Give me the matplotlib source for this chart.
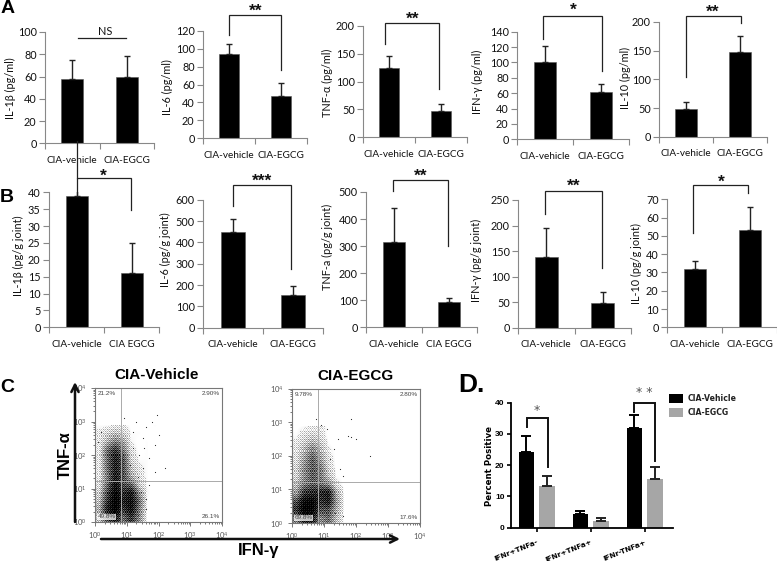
import numpy as np
import matplotlib
matplotlib.use('Agg')
import matplotlib.pyplot as plt

W, H = 777, 561
plt.rcParams['font.family'] = ['Lato', 'DejaVu Sans']
plt.rcParams['mathtext.default'] = 'regular'

groups = ['CIA-vehicle', 'CIA-EGCG']
groups_b = ['CIA-vehicle', 'CIA EGCG']

# panels A and B: vehicle / EGCG means and upper error
a_labels = ['IL-1β (pg/ml)', 'IL-6 (pg/ml)', 'TNF-α (pg/ml)', 'IFN-γ (pg/ml)', 'IL-10 (pg/ml)']
a_vehicle = [58, 94, 125, 101, 48]
a_egcg = [60, 47, 47, 61, 147]
a_vehicle_err = [17, 11, 21, 20, 13]
a_egcg_err = [18, 15, 12, 11, 28]
a_ymax = [100, 120, 200, 140, 200]
a_ystep = [20, 20, 50, 20, 50]

b_labels = ['IL-1β (pg/g joint)', 'IL-6 (pg/g joint)', 'TNF-a (pg/g joint)', 'IFN-γ (pg/g joint)', 'IL-10 (pg/g joint)']
b_vehicle = [39, 448, 315, 138, 32]
b_egcg = [16, 152, 92, 49, 53]
b_vehicle_err = [4, 62, 125, 58, 4]
b_egcg_err = [9, 44, 18, 20, 13]
b_ymax = [40, 600, 500, 250, 70]
b_ystep = [5, 100, 100, 50, 10]

# panel D
d_groups = ['IFNr+TNFa-', 'IFNr+TNFa+', 'IFNr-TNFa+']
d_vehicle = [24.2, 4.3, 32]
d_egcg = [13.2, 2.2, 15.5]
d_vehicle_err = [5.3, 0.9, 4]
d_egcg_err = [3.3, 0.8, 4]

c_vehicle_density = np.array([
    [1.5, 5.0, 7.0, 4.0, 6.0, 3.0, 0.2, 0.0, 0.0],
    [2.0, 7.0, 9.5, 6.0, 8.0, 3.5, 0.3, 0.0, 0.0],
    [1.5, 6.0, 9.5, 7.0, 8.0, 4.0, 0.3, 0.1, 0.0],
    [1.0, 5.0, 8.5, 6.0, 7.0, 2.5, 0.4, 0.1, 0.0],
    [0.7, 4.0, 8.0, 5.0, 4.0, 1.0, 0.3, 0.1, 0.0],
    [0.5, 3.5, 7.0, 5.0, 2.0, 0.7, 0.3, 0.1, 0.0],
    [0.5, 4.0, 7.0, 5.0, 1.5, 0.5, 0.3, 0.1, 0.0],
    [0.5, 4.0, 7.0, 5.0, 1.0, 0.3, 0.3, 0.1, 0.0],
    [0.5, 4.0, 6.0, 3.5, 0.7, 0.2, 0.3, 0.1, 0.0],
    [0.5, 2.0, 3.5, 2.5, 0.4, 0.2, 0.3, 0.1, 0.0],
    [0.5, 1.0, 1.5, 1.0, 0.3, 0.3, 0.2, 0.2, 0.1],
    [0.3, 0.3, 0.5, 0.6, 0.2, 0.2, 0.2, 0.3, 0.2],
])
c_egcg_density = np.array([
    [3.5, 7.0, 7.0, 3.0, 4.0, 1.5, 0.2, 0.0, 0.0],
    [6.0, 9.5, 9.0, 5.0, 5.0, 2.0, 0.2, 0.0, 0.0],
    [5.0, 8.5, 9.0, 6.0, 7.0, 2.5, 0.2, 0.0, 0.0],
    [2.5, 6.0, 6.5, 6.5, 7.0, 2.0, 0.2, 0.0, 0.0],
    [1.5, 3.5, 4.5, 4.0, 3.0, 0.6, 0.2, 0.0, 0.0],
    [1.0, 3.0, 4.5, 3.5, 1.5, 0.3, 0.2, 0.0, 0.0],
    [1.0, 3.0, 4.5, 3.5, 1.0, 0.2, 0.1, 0.0, 0.0],
    [0.7, 2.5, 4.5, 2.5, 0.7, 0.2, 0.1, 0.0, 0.0],
    [0.7, 2.0, 3.5, 2.0, 0.5, 0.2, 0.1, 0.1, 0.0],
    [0.5, 1.2, 2.0, 1.2, 0.3, 0.1, 0.1, 0.1, 0.0],
    [0.3, 0.7, 1.0, 0.7, 0.2, 0.1, 0.1, 0.1, 0.0],
    [0.2, 0.3, 0.4, 0.6, 0.2, 0.2, 0.1, 0.1, 0.0],
])
# stray events outside the cloud (log10 of the fluorescence)
c_vehicle_x = [2.0, 1.9, 1.6, 1.3, 0.9, 1.8, 1.95, 1.5, 1.2, 1.4, 1.7, 1.1, 1.5, 1.9, 1.35, 1.7, 1.45, 1.6, 1.3, 1.35, 1.6, 1.2, 0.2, 0.1, 1.55, 2.2]
c_vehicle_y = [2.6, 2.3, 2.85, 3.0, 3.1, 3.0, 3.2, 2.5, 2.2, 2.0, 1.9, 1.7, 1.6, 1.5, 1.35, 1.1, 0.9, 0.7, 0.6, 0.2, 0.4, 2.7, 2.7, 2.4, 2.2, 1.6]
c_egcg_x = [1.85, 1.75, 1.85, 2.0, 0.75, 1.1, 2.45, 1.5, 1.6, 1.45, 1.3, 0.9, 1.2, 1.35, 1.6]
c_egcg_y = [3.1, 2.6, 2.55, 2.5, 3.1, 2.8, 2.0, 1.6, 1.4, 2.5, 2.2, 2.9, 1.9, 0.3, 0.2]
c_vehicle_pct = ['21.2%', '2.90%', '49.8%', '26.1%']
c_egcg_pct = ['9.78%', '2.80%', '69.8%', '17.6%']

# ordered-dither matrix, gives the read darkness a grainy look
bayer = np.array([[0, 8, 2, 10], [12, 4, 14, 6], [3, 11, 1, 9], [15, 7, 13, 5]]) / 16 + 1 / 32


def px_axes(left, right, bottom, top):
    return fig.add_axes([left / W, 1 - bottom / H, (right - left) / W, (bottom - top) / H])


def bar_panel(rect, vals, errs, ymax, ystep, names):
    ax = px_axes(*rect)
    x = np.arange(2)
    ax.bar(x, vals, width=0.4, color='black', edgecolor='#555555', linewidth=0.4)
    ax.errorbar(x, vals, yerr=[[0, 0], errs], fmt='none', ecolor='#222222', elinewidth=1, capsize=2, capthick=1)
    ax.set_xlim(-0.5, 1.5)
    ax.set_ylim(0, ymax)
    ax.set_yticks(np.arange(0, ymax + 1, ystep))
    ax.set_xticks([-0.5, 0.5, 1.5])
    ax.set_xticklabels([])
    ax.set_xticks(x, names, minor=True)
    ax.tick_params(axis='x', which='major', length=4, color='#888888')
    ax.tick_params(axis='x', which='minor', length=0, pad=9, labelsize=7.2, labelcolor='#111111')
    ax.tick_params(axis='y', length=4, color='#888888', labelsize=7.8, pad=2, labelcolor='#111111')
    for s in ['top', 'right']:
        ax.spines[s].set_visible(False)
    for s in ['left', 'bottom']:
        ax.spines[s].set_color('#888888')
    return ax


def flow_panel(rect, density, dots_x, dots_y, pcts, gate_x, gate_y):
    ax = px_axes(*rect)
    # read grid -> one value per image pixel, then a soft ordered dither
    d = np.pad(density, ((1, 0), (1, 0)), mode='edge')
    node_x = np.r_[0, 0.125 + 0.25 * np.arange(density.shape[1])]
    node_y = np.r_[0, 0.125 + 0.25 * np.arange(density.shape[0])]
    step = 4 / (rect[1] - rect[0])
    fine_x = np.arange(0, node_x[-1], step)
    fine_y = np.arange(0, node_y[-1], step)
    rows = np.array([np.interp(fine_x, node_x, r) for r in d])
    fine = np.array([np.interp(fine_y, node_y, c) for c in rows.T]).T
    thresh = bayer[np.ix_(np.arange(len(fine_y)) % 4, np.arange(len(fine_x)) % 4)]
    shade = (fine / 9.5) ** 0.7 * 1.25 - 0.1 + 0.6 * (thresh - 0.5) * (fine > 0.4)
    edge_x = 10 ** np.r_[fine_x, fine_x[-1] + step]
    edge_y = 10 ** np.r_[fine_y, fine_y[-1] + step]
    ax.pcolormesh(edge_x, edge_y, np.clip(shade, 0, 1), cmap='gray_r', vmin=0, vmax=1, linewidth=0, rasterized=True)
    ax.scatter(10 ** np.array(dots_x), 10 ** np.array(dots_y), s=0.7, c='#222222', linewidths=0)
    ax.set_xscale('log')
    ax.set_yscale('log')
    ax.set_xlim(1, 1e4)
    ax.set_ylim(1, 1e4)
    ax.axvline(gate_x, color='#aaaaaa', lw=0.7)
    ax.axhline(gate_y, color='#aaaaaa', lw=0.7)
    ax.set_xticks([1, 10, 100, 1000, 10000])
    ax.set_yticks([1, 10, 100, 1000, 10000])
    ax.tick_params(which='both', labelsize=5.5, color='#444444', labelcolor='#555555', width=0.5)
    ax.tick_params(which='major', length=3, pad=3)
    ax.tick_params(which='minor', length=1.5)
    for s in ax.spines.values():
        s.set_color('#777777')
        s.set_linewidth(0.8)
    spots = [(0.02, 0.975, 'left', 'top'), (0.98, 0.975, 'right', 'top'),
             (0.02, 0.02, 'left', 'bottom'), (0.98, 0.02, 'right', 'bottom')]
    for (tx, ty, ha, va), p in zip(spots, pcts):
        ax.text(tx, ty, p, transform=ax.transAxes, ha=ha, va=va, fontsize=4.6, color='#444444',
                family='Liberation Sans',
                bbox=dict(fc='white', ec='none', pad=0.5, alpha=0.75))
    return ax


fig = plt.figure(figsize=(W / 100, H / 100), dpi=100)

a_rects = [(45, 154, 143.3, 32), (203, 307, 138.3, 30.7), (363, 467, 137.3, 26),
           (517, 629, 139.3, 31.7), (659, 767, 136.7, 22)]
b_rects = [(49, 159, 327.3, 192.3), (203, 323, 327.7, 199.7), (366, 477, 327.3, 192),
           (518, 631, 327.7, 200), (667, 777, 327.3, 199.3)]

for i in range(5):
    bar_panel(a_rects[i], [a_vehicle[i], a_egcg[i]], [a_vehicle_err[i], a_egcg_err[i]], a_ymax[i], a_ystep[i], groups)
    names_b = groups_b if i in (0, 2) else groups
    bar_panel(b_rects[i], [b_vehicle[i], b_egcg[i]], [b_vehicle_err[i], b_egcg_err[i]], b_ymax[i], b_ystep[i], names_b)

flow_panel((95, 222, 522, 388), c_vehicle_density, c_vehicle_x, c_vehicle_y, c_vehicle_pct, 10 ** 0.81, 10 ** 1.22)
flow_panel((292, 420, 523, 388.5), c_egcg_density, c_egcg_x, c_egcg_y, c_egcg_pct, 10 ** 0.82, 10 ** 1.22)

# panel D
axd = px_axes(510.7, 672.7, 527.7, 402.7)
xd = np.arange(3)
axd.bar(xd - 0.19, d_vehicle, width=0.29, color='black')
axd.bar(xd + 0.19, d_egcg, width=0.29, color='#a6a6a6')
axd.errorbar(xd - 0.19, d_vehicle, yerr=[[0] * 3, d_vehicle_err], fmt='none', ecolor='black', elinewidth=1.4, capsize=3.5, capthick=1.4)
axd.errorbar(xd + 0.19, d_egcg, yerr=[[0] * 3, d_egcg_err], fmt='none', ecolor='#222222', elinewidth=1.4, capsize=3.5, capthick=1.4)
axd.set_xlim(-0.48, 2.52)
axd.set_ylim(0, 40)
axd.set_yticks([0, 10, 20, 30, 40])
axd.set_xticks(xd)
axd.set_xticklabels(d_groups, rotation=22, ha='right', rotation_mode='anchor', fontsize=5.2,
                    fontweight='bold', family='DejaVu Sans')
axd.tick_params(axis='y', labelsize=6, length=3, width=1.2, pad=1.5)
axd.tick_params(axis='x', length=3, width=1.2, pad=5)
for t in axd.get_yticklabels():
    t.set_fontweight('bold')
    t.set_family('Liberation Sans')
for s in ['top', 'right']:
    axd.spines[s].set_visible(False)
for s in ['left', 'bottom']:
    axd.spines[s].set_linewidth(1.3)

# overlay in image pixels for brackets, letters and the arrows of panel C
ov = fig.add_axes([0, 0, 1, 1], zorder=10)
ov.set_xlim(0, W)
ov.set_ylim(H, 0)
ov.axis('off')

a_label_x = [10, 167, 327, 477, 625]
a_label_y = [88, 87, 83, 82, 78]
b_label_x = [18, 165, 327, 476, 636]
b_label_y = [256, 250, 247, 260, 263]
for lab, x, y in zip(a_labels, a_label_x, a_label_y):
    ov.text(x, y, lab, rotation=90, ha='center', va='center', fontsize=7.8, color='#111111')
for lab, x, y in zip(b_labels, b_label_x, b_label_y):
    ov.text(x, y, lab, rotation=90, ha='center', va='center', fontsize=7.8, color='#111111')

# left x, right x, top y, left end, right end, stars, star x, star y
brackets = [
    (228.7, 281, 14.7, 35, 70, '**', 256, 8),
    (385, 439, 23, 44, 89, '**', 413, 16),
    (543, 602, 15.7, 39, 71, '*', 573, 7),
    (686, 741, 15.7, 77, 23, '**', 713, 9),
    (76.7, 131, 178.3, 195, 210, '*', 103, 172.7),
    (232.7, 291, 184.7, 206, 268.7, '***', 262, 178),
    (392.7, 448, 180, 190.7, 246, '**', 420.7, 173),
    (545, 602.3, 190.7, 214, 268, '**', 574, 183),
    (692.7, 748, 185.3, 233, 192.7, '*', 721, 179),
]
for xl, xr, yt, yl, yr, stars, sx, sy in brackets:
    ov.plot([xl, xl, xr, xr], [yl, yt, yt, yr], color='#222222', lw=0.9, solid_joinstyle='miter')
    ov.text(sx, sy + 3.5, stars, ha='center', va='center', fontsize=12.5, fontweight='bold',
            family='Liberation Sans', color='#111111')

# long left leg of the first B bracket runs up into panel A
ov.plot([76.7, 76.7], [141, 178.3], color='#222222', lw=0.9)
# NS line
ov.plot([78, 126], [38, 38], color='#222222', lw=0.9)
ov.text(105, 31, 'NS', ha='center', va='center', fontsize=7.8, color='#111111')

d_brackets = [
    (526.7, 547.7, 418.3, 426.7, 466.7, '*', 537, 408),
    (634, 655, 403, 411.7, 460.7, '* *', 644, 390),
]
for xl, xr, yt, yl, yr, stars, sx, sy in d_brackets:
    ov.plot([xl, xl, xr, xr], [yl, yt, yt, yr], color='#111111', lw=1.4, solid_joinstyle='miter')
    ov.text(sx, sy + 2, stars, ha='center', va='center', fontsize=9, color='#555555', family='DejaVu Sans')

ov.text(490, 466, 'Percent Positive', rotation=90, ha='center', va='center', fontsize=6.2,
        fontweight='bold', family='DejaVu Sans')

# legend of panel D
legend_names = ['CIA-Vehicle', 'CIA-EGCG']
legend_colors = ['black', '#a6a6a6']
for name, col, y in zip(legend_names, legend_colors, [398.5, 412.5]):
    ov.fill_between([669, 683], y - 4.5, y + 4.5, color=col, linewidth=0)
    ov.text(688, y, name, ha='left', va='center', fontsize=5.6, fontweight='bold', family='DejaVu Sans', color='#222222')

# panel letters
for txt, x, y, size in [('A', 1, 8, 14), ('B', 0, 197, 14), ('C', 0, 387, 14), ('D.', 458, 385, 19)]:
    ov.text(x, y, txt, ha='left', va='center', fontsize=size, fontweight='bold', family='Liberation Sans')

# titles and axes of panel C
ov.text(157, 375, 'CIA-Vehicle', ha='center', va='center', fontsize=11, fontweight='bold', family='Liberation Sans')
ov.text(355, 376, 'CIA-EGCG', ha='center', va='center', fontsize=11, fontweight='bold', family='Liberation Sans')
ov.text(65, 455, 'TNF-α', rotation=90, ha='center', va='center', fontsize=12, fontweight='bold', family='Liberation Sans')
ov.text(259, 551, 'IFN-γ', ha='center', va='center', fontsize=12, fontweight='bold', family='Liberation Sans')
ov.annotate('', xy=(75, 382), xytext=(75, 522), arrowprops=dict(arrowstyle='->', lw=1.8, color='#111111', mutation_scale=13, shrinkA=0, shrinkB=0))
ov.annotate('', xy=(400, 539), xytext=(101, 539), arrowprops=dict(arrowstyle='->', lw=1.8, color='#111111', mutation_scale=13, shrinkA=0, shrinkB=0))

fig.savefig('out.png', dpi=100)
